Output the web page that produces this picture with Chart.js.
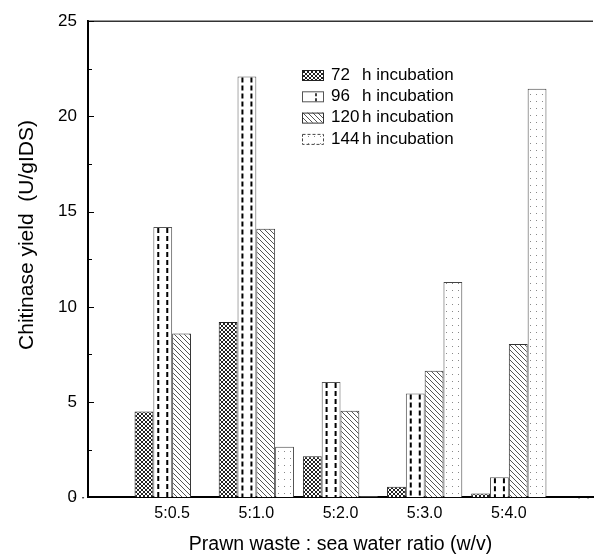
<!DOCTYPE html>
<html>
<head>
<meta charset="utf-8">
<script src="https://cdn.jsdelivr.net/npm/chart.js@4.4.1/dist/chart.umd.min.js"></script>
<style>
  html, body { margin: 0; padding: 0; background: #fff; overflow: hidden; }
  #wrap { width: 600px; height: 554px; }
</style>
</head>
<body>
<div id="wrap"><canvas id="chart" width="600" height="554"></canvas></div>
<script>
// Chitinase yield at different prawn waste : sea water ratios
const ratios = ['5:0.5', '5:1.0', '5:2.0', '5:3.0', '5:4.0'];
const hours = ['72', '96', '120', '144'];
const yield72 = [4.5, 9.2, 2.15, 0.55, 0.2];
const yield96 = [14.2, 22.1, 6.05, 5.45, 1.05];
const yield120 = [8.6, 14.1, 4.55, 6.65, 8.05];
const yield144 = [0, 2.65, 0.05, 11.3, 21.45];
const yTicks = [0, 5, 10, 15, 20, 25];

const FONT = '"Liberation Sans", Arial, sans-serif';
const INK = '#000';

const canvas = document.getElementById('chart');
const ctx = canvas.getContext('2d');

// small tiles used as bar fills
function makePattern(w, h, draw) {
  const tile = document.createElement('canvas');
  tile.width = w; tile.height = h;
  const g = tile.getContext('2d');
  g.fillStyle = '#fff';
  g.fillRect(0, 0, w, h);
  draw(g);
  return ctx.createPattern(tile, 'repeat');
}

const crossHatch = makePattern(4, 4, g => {
  g.strokeStyle = '#222'; g.lineWidth = 1;
  g.beginPath();
  g.moveTo(0, 0); g.lineTo(4, 4);
  g.moveTo(4, 0); g.lineTo(0, 4);
  g.stroke();
});
const diagHatch = makePattern(5, 5, g => {
  g.strokeStyle = '#555'; g.lineWidth = 1;
  g.beginPath();
  g.moveTo(-1, -1); g.lineTo(6, 6);
  g.moveTo(-1, 4); g.lineTo(1, 6);
  g.moveTo(4, -1); g.lineTo(6, 1);
  g.stroke();
});
const dotted = makePattern(6, 7, g => {
  g.fillStyle = '#888';
  g.fillRect(2, 3, 1, 1);
});

const fills = [crossHatch, '#fff', diagHatch, dotted];
const edges = ['#222', '#555', '#333', '#444'];
const seriesData = [yield72, yield96, yield120, yield144];

// one empty slot either side so the groups sit on the same spacing as the original
const labels = [''].concat(ratios, ['']);
const pad = arr => [null].concat(arr, [null]);

// dashed strokes inside the 96 h bars
function drawDashes(c, x, top, bottom) {
  c.save();
  c.strokeStyle = '#000'; c.lineWidth = 2; c.setLineDash([5, 3]);
  [-4.5, 4.5].forEach(dx => {
    c.beginPath(); c.moveTo(x + dx, top + 1); c.lineTo(x + dx, bottom); c.stroke();
  });
  c.restore();
}

const decor = {
  id: 'decor',
  afterDatasetsDraw(chart) {
    const meta = chart.getDatasetMeta(1);
    meta.data.forEach(bar => {
      const { x, y, base } = bar.getProps(['x', 'y', 'base'], true);
      if (isNaN(y) || isNaN(x)) return;
      drawDashes(chart.ctx, x, y, base);
    });
  },
  afterDraw(chart) {
    const c = chart.ctx, area = chart.chartArea, ys = chart.scales.y;
    c.save();
    // top frame
    c.strokeStyle = '#333'; c.lineWidth = 1.5;
    c.beginPath(); c.moveTo(area.left, area.top); c.lineTo(area.right, area.top); c.stroke();
    // inward ticks, majors and halfway minors
    c.strokeStyle = '#000'; c.lineWidth = 1;
    yTicks.forEach((v, i) => {
      let py = Math.round(ys.getPixelForValue(v)) + 0.5;
      c.beginPath(); c.moveTo(area.left, py); c.lineTo(area.left + 6, py); c.stroke();
      if (i < yTicks.length - 1) {
        py = Math.round(ys.getPixelForValue((v + yTicks[i + 1]) / 2)) + 0.5;
        c.beginPath(); c.moveTo(area.left, py); c.lineTo(area.left + 4, py); c.stroke();
      }
    });
    // y title
    c.fillStyle = INK;
    c.font = '21px ' + FONT;
    c.textAlign = 'center'; c.textBaseline = 'middle';
    c.translate(27, 235);
    c.rotate(-Math.PI / 2);
    c.fillText('Chitinase yield  (U/gIDS)', 0, 0);
    c.restore();

    // legend
    c.save();
    c.font = '17px ' + FONT;
    c.textBaseline = 'middle'; c.textAlign = 'left';
    hours.forEach((h, i) => {
      const cy = 75 + i * 21.3;
      c.fillStyle = fills[i];
      c.fillRect(302, cy - 5, 21, 10);
      c.strokeStyle = edges[i]; c.lineWidth = 1;
      if (i === 3) c.setLineDash([3, 2]);
      c.strokeRect(302.5, cy - 4.5, 21, 10);
      c.setLineDash([]);
      if (i === 1) {
        c.save(); c.strokeStyle = '#000'; c.lineWidth = 1.5; c.setLineDash([3, 2]);
        c.beginPath(); c.moveTo(316, cy - 3); c.lineTo(316, cy + 5); c.stroke();
        c.restore();
      }
      c.fillStyle = INK;
      c.fillText(h, 331, cy);
      c.fillText('h incubation', 362, cy);
    });
    c.restore();
  }
};

new Chart(canvas, {
  type: 'bar',
  data: {
    labels: labels,
    datasets: seriesData.map((arr, i) => ({
      label: hours[i] + ' h incubation',
      data: pad(arr),
      backgroundColor: fills[i],
      borderColor: edges[i],
      borderWidth: 1,
      categoryPercentage: 0.894,
      barPercentage: 1.0
    }))
  },
  options: {
    responsive: false,
    animation: false,
    devicePixelRatio: 1,
    layout: { padding: { left: 0, top: 20, right: 2, bottom: 0 } },
    scales: {
      x: {
        offset: false,
        grid: { display: false, offset: false, drawTicks: false },
        border: { color: '#000', width: 2 },
        ticks: { color: INK, font: { family: FONT, size: 16 }, padding: 7, autoSkip: false, maxRotation: 0 },
        title: {
          display: true,
          text: 'Prawn waste : sea water ratio (w/v)',
          color: INK,
          font: { family: FONT, size: 19.5, lineHeight: 1 },
          padding: { top: 4, bottom: 0 }
        }
      },
      y: {
        min: 0,
        max: 25,
        grid: { display: false, drawTicks: false },
        border: { color: '#000', width: 2 },
        ticks: { stepSize: 5, color: INK, font: { family: FONT, size: 17 }, padding: 11 },
        afterFit(scale) { scale.width = 88; }
      }
    },
    plugins: {
      legend: { display: false },
      tooltip: { enabled: false }
    }
  },
  plugins: [decor]
});
</script>
</body>
</html>
